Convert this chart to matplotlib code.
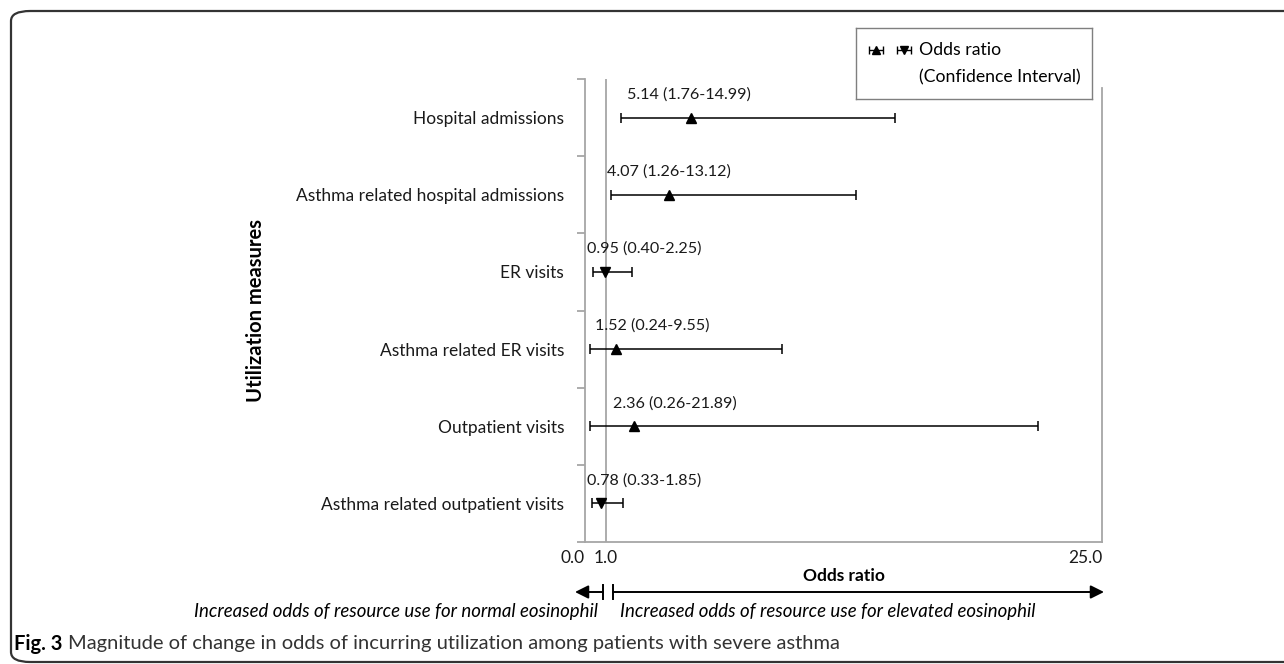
import numpy as np
import matplotlib
matplotlib.use('Agg')
import matplotlib.pyplot as plt
from matplotlib.patches import FancyBboxPatch
from matplotlib.lines import Line2D

plt.rcParams['font.family'] = ['Lato', 'DejaVu Sans']

# data
measures = ['Hospital admissions', 'Asthma related hospital admissions', 'ER visits',
            'Asthma related ER visits', 'Outpatient visits', 'Asthma related outpatient visits']
odds = [5.14, 4.07, 0.95, 1.52, 2.36, 0.78]
ci_low = [1.76, 1.26, 0.40, 0.24, 0.26, 0.33]
ci_high = [14.99, 13.12, 2.25, 9.55, 21.89, 1.85]
x_ticks = [0.0, 1.0, 25.0]

W, H = 1284, 664
fig = plt.figure(figsize=(W/100, H/100), dpi=100)

def fx(px):
    return px / W

def fy(py):
    return 1 - py / H

# plot area in pixels: left 585, right 1102, top 79, bottom 542
ax = fig.add_axes([fx(585), fy(542), fx(1102-585), (542-79)/H])
gray = '#a6a6a6'

n = len(measures)
ypos = n - 0.5 - np.arange(n)
odds = np.array(odds); lo = np.array(ci_low); hi = np.array(ci_high)

for i in range(n):
    mk = '^' if odds[i] >= 1 else 'v'
    ax.errorbar(odds[i], ypos[i], xerr=[[odds[i]-lo[i]], [hi[i]-odds[i]]],
                fmt=mk, color='black', ms=7.5, elinewidth=1.1, capsize=3.5,
                capthick=1.1, zorder=3)

# data labels (left edge, in data units)
label_left = [2.05, 1.04, 0.12, 0.46, 1.35, 0.12]
for i in range(n):
    ax.text(label_left[i], ypos[i] + 0.3, '%.2f (%.2f-%.2f)' % (odds[i], lo[i], hi[i]),
            ha='left', va='center', fontsize=11.6, color='#1a1a1a')

ax.axvline(1.0, color=gray, lw=1.3, zorder=1)
ax.axvline(25.0, ymax=(542-88)/(542-79), color=gray, lw=1.3, zorder=1, clip_on=False)

ax.set_xlim(0, 25)
ax.set_ylim(0, n)
ax.set_xticks(x_ticks)
ax.set_xticklabels(['%.1f' % v for v in x_ticks])
ax.tick_params(axis='x', length=0, pad=6, labelsize=12.5, labelcolor='#1a1a1a')
xl = ax.get_xticklabels()
xl[0].set_ha('right')
xl[2].set_ha('right')

ax.set_yticks(ypos)
ax.set_yticklabels(measures)
ax.set_yticks(np.arange(n + 1), minor=True)
ax.tick_params(axis='y', which='major', length=0, pad=15, labelsize=12.5, labelcolor='#1a1a1a')
ax.tick_params(axis='y', which='minor', length=6, width=1.3, color=gray)

for s in ['top', 'right']:
    ax.spines[s].set_visible(False)
for s in ['left', 'bottom']:
    ax.spines[s].set_color(gray)
    ax.spines[s].set_linewidth(1.3)

fig.text(fx(256), fy(310), 'Utilization measures', rotation=90, ha='center', va='center',
         fontsize=14.5, fontweight='bold')
fig.text(fx(844), fy(576), 'Odds ratio', ha='center', va='center', fontsize=12.5, fontweight='bold')

# direction arrows under the axis
ay = fy(592)
fig.add_artist(Line2D([fx(603), fx(603)], [fy(585), fy(599)], color='black', lw=1.4))
fig.add_artist(Line2D([fx(613), fx(613)], [fy(585), fy(599)], color='black', lw=1.4))
ax.annotate('', xy=(fx(575), ay), xytext=(fx(603), ay), xycoords='figure fraction',
            arrowprops=dict(arrowstyle='-|>', color='black', lw=1.4, mutation_scale=20,
                            shrinkA=0, shrinkB=0))
ax.annotate('', xy=(fx(1104), ay), xytext=(fx(613), ay), xycoords='figure fraction',
            arrowprops=dict(arrowstyle='-|>', color='black', lw=1.4, mutation_scale=20,
                            shrinkA=0, shrinkB=0))
fig.text(fx(598), fy(611), 'Increased odds of resource use for normal eosinophil',
         ha='right', va='center', fontsize=13.4, style='italic')
fig.text(fx(620), fy(611), 'Increased odds of resource use for elevated eosinophil',
         ha='left', va='center', fontsize=13.4, style='italic')

# legend box
lax = fig.add_axes([fx(856), fy(99), fx(1092-856), (99-28)/H])
lax.set_xlim(0, 236)
lax.set_ylim(71, 0)
lax.set_xticks([]); lax.set_yticks([])
for s in lax.spines.values():
    s.set_color('#7f7f7f'); s.set_linewidth(1.0)
lax.errorbar([20], [22], xerr=[[7], [7]], fmt='^', color='black', ms=6, elinewidth=1, capsize=3)
lax.errorbar([48], [22], xerr=[[7], [7]], fmt='v', color='black', ms=6, elinewidth=1, capsize=3)
lax.text(63, 22, 'Odds ratio', ha='left', va='center', fontsize=12.7)
lax.text(63, 49, '(Confidence Interval)', ha='left', va='center', fontsize=12.7)

# caption
t = fig.text(fx(14), fy(644), 'Fig. 3', ha='left', va='center', fontsize=14.5, fontweight='bold')
fig.canvas.draw()
bb = t.get_window_extent(fig.canvas.get_renderer())
fig.text(fx(bb.x1 + 5), fy(644), 'Magnitude of change in odds of incurring utilization among patients with severe asthma',
         ha='left', va='center', fontsize=14.5, color='#333333')

# rounded frame around the figure panel
frame = FancyBboxPatch((fx(11), fy(662)), fx(1400), (662-11)/H,
                       boxstyle='round,pad=0,rounding_size=0.015', transform=fig.transFigure,
                       fill=False, ec='#333333', lw=1.6, clip_on=False)
fig.add_artist(frame)

fig.savefig('out.png', dpi=100)
